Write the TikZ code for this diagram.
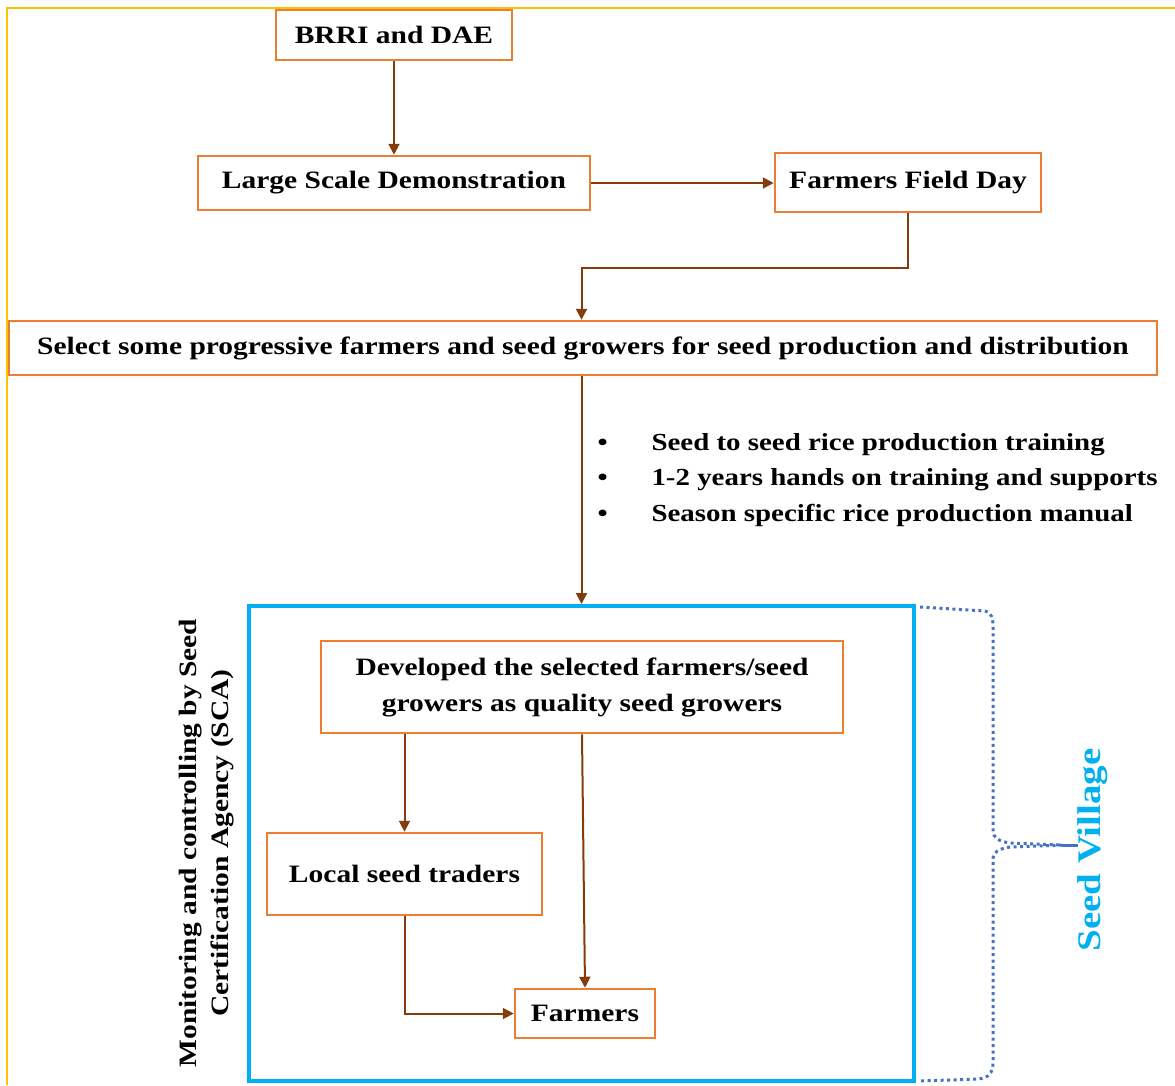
\documentclass[tikz,border=0pt]{standalone}
\usepackage{fontspec}
\setmainfont[FakeStretch=1.18]{Liberation Serif}
\usetikzlibrary{arrows.meta}

\definecolor{boxorange}{RGB}{237,125,49}
\definecolor{linkbrown}{RGB}{132,60,12}
\definecolor{frameyellow}{RGB}{255,192,0}
\definecolor{villageblue}{RGB}{0,176,240}
\definecolor{bracedots}{RGB}{68,114,196}

\tikzset{
  box/.style={draw=boxorange, line width=2.5pt, fill=white, align=center,
    inner sep=0pt, font=\fontsize{25}{36}\selectfont\bfseries},
  link/.style={draw=linkbrown, line width=2pt,
    -{Triangle[length=11pt,width=11pt]}},
  plain/.style={font=\fontsize{25}{36}\selectfont\bfseries}
}

\begin{document}
\begin{tikzpicture}[x=1pt,y=-1pt]
  \useasboundingbox (0,0) rectangle (1175,1085);

  % CADRE
  \draw[frameyellow, line width=2pt] (1175,8) -- (7,8) -- (7,1085);

  % BOITES DU HAUT
  \node[box, minimum width=236pt, minimum height=50pt] (brri) at (394,35) {BRRI and DAE};
  \node[box, minimum width=392pt, minimum height=54pt] (lsd) at (394,183) {Large Scale Demonstration};
  \node[box, minimum width=266pt, minimum height=59pt] (ffd) at (908,182.5) {Farmers Field Day};
  \node[box, minimum width=1148pt, minimum height=54pt] (select) at (583,348)
    {Select some progressive farmers and seed growers for seed production and distribution};

  % SEED VILLAGE
  \node[draw=villageblue, line width=4pt, minimum width=665pt, minimum height=475pt,
    inner sep=0pt] (village) at (581.5,843.5) {};
  \node[box, minimum width=522pt, minimum height=92pt] (dev) at (582,687)
    {Developed the selected farmers/seed\\growers as quality seed growers};
  \node[box, minimum width=275pt, minimum height=82pt] (trader) at (404.5,874) {Local seed traders};
  \node[box, minimum width=140pt, minimum height=49pt] (farmer) at (585,1013.5) {Farmers};

  % TEXTE TOURNE
  \node[plain, rotate=90, align=center, font=\fontsize{25}{32}\selectfont] (sca) at (207,843)
    {\bfseries Monitoring and controlling by Seed\\\bfseries Certification Agency (SCA)};
  \node[plain, rotate=90, text=villageblue, font=\fontsize{33}{36}\selectfont\bfseries] (sv) at (1093,850)
    {Seed Village};

  % LISTE
  \node[plain, anchor=west, align=left, font=\fontsize{24.5}{36}\selectfont\bfseries] (list) at (594,480)
    {\makebox[54pt][l]{\textbullet}Seed to seed rice production training\\[-0.5pt]
     \makebox[54pt][l]{\textbullet}1-2 years hands on training and supports\\[-0.5pt]
     \makebox[54pt][l]{\textbullet}Season specific rice production manual};

  % FLECHES
  \draw[link] (brri.south) -- (lsd.north);
  \draw[link] (lsd.east) -- (ffd.west |- lsd.east);
  \draw[link] (ffd.south) -- ++(0,55) -| (select.north -| village.north);
  \draw[link] (select.south -| village.north) -- (village.north);
  \draw[link] (dev.south -| trader.north) -- (trader.north);
  \draw[link] (dev.south) -- (farmer.north);
  \draw[link] (trader.south) |- (farmer.west);

  % ACCOLADE
  \coordinate (tip) at (1078,845);
  \draw[bracedots, line width=3pt, dash pattern=on 3pt off 3.5pt]
    (920,607) -- (985,611) .. controls (992,613) and (993,618) .. (993,628)
    -- (993,830) .. controls (993,838) and (998,841) .. (1010,843) -- (1062,845);
  \draw[bracedots, line width=3pt, dash pattern=on 3pt off 3.5pt]
    (1062,845) -- (1010,847) .. controls (998,849) and (993,852) .. (993,860)
    -- (993,1062) .. controls (993,1074) and (988,1078) .. (978,1079) -- (920,1081);
  \draw[bracedots, line width=3pt] (1062,845) -- (tip);
\end{tikzpicture}
\end{document}
